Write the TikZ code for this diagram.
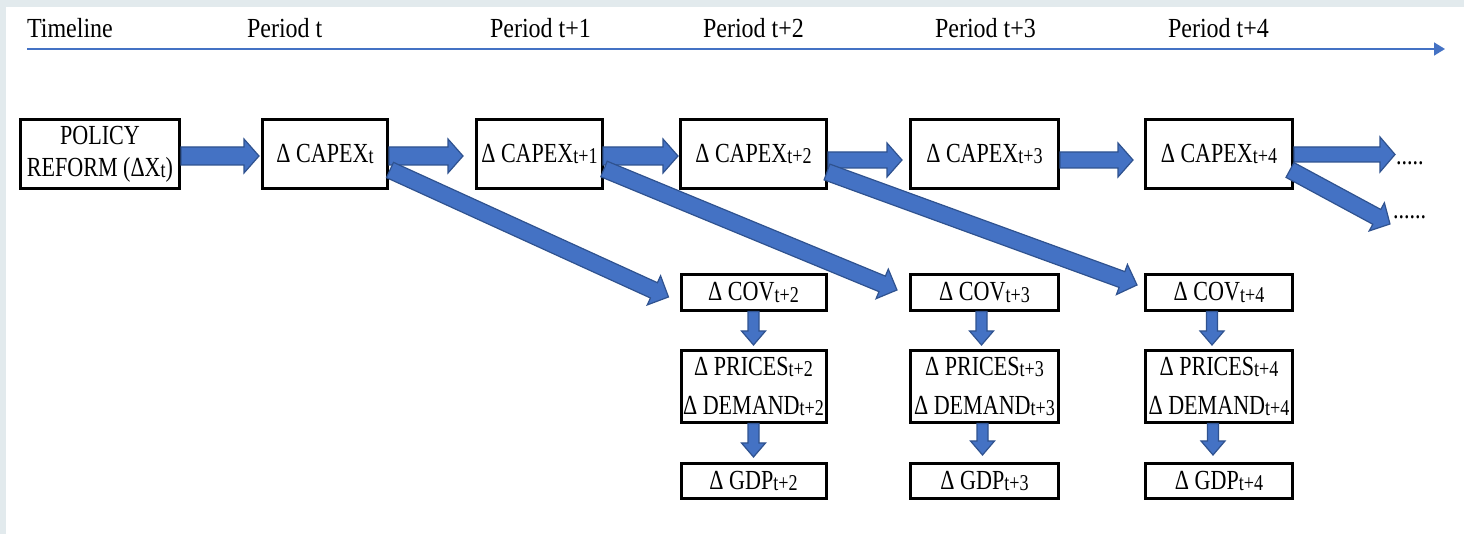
\documentclass[tikz,border=0pt]{standalone}
\usepackage{fontspec}
\setmainfont{Liberation Serif}[FakeStretch=0.8]
\newfontfamily\labfont{Liberation Serif}[FakeStretch=0.87]
\usetikzlibrary{calc,arrows.meta}
\definecolor{abl}{HTML}{4472C4}
\definecolor{abd}{HTML}{2F528F}
\definecolor{stripc}{HTML}{E2EAED}
\newcommand\lsub[1]{{\fontsize{11.3}{12}\selectfont\raisebox{-0.8pt}{#1}}}
\newcommand\blockarrow[5]{%
  \coordinate (bas) at #1;
  \coordinate (bae) at #2;
  \pgfpointdiff{\pgfpointanchor{bas}{center}}{\pgfpointanchor{bae}{center}}%
  \pgfgetlastxy{\mybdx}{\mybdy}%
  \pgfmathsetmacro\mybang{atan2(\mybdy,\mybdx)}%
  \pgfmathsetmacro\myblen{veclen(\mybdx,\mybdy)}%
  \path[barrow, shift={(bas)}, rotate=\mybang]
    (0pt,#3) -- ({\myblen pt-#5},#3) -- ({\myblen pt-#5},#4) -- (\myblen pt,0pt)
    -- ({\myblen pt-#5},-#4) -- ({\myblen pt-#5},-#3) -- (0pt,-#3) -- cycle;
}
\begin{document}
\begin{tikzpicture}[x=0.5pt,y=-0.5pt,
  every node/.style={font=\fontsize{13.8}{16}\selectfont},
  box/.style={draw=black, fill=white, line width=1.5pt, inner sep=0pt, outer sep=0pt, align=center},
  rowtop/.style={box, minimum height=34.5pt},
  rowcov/.style={box, minimum height=18pt},
  rowpd/.style={box, minimum height=36pt, font=\fontsize{13.8}{19.5}\selectfont},
  rowgdp/.style={box, minimum height=17.5pt},
  lab/.style={anchor=base west, inner sep=0pt, outer sep=0pt, font=\labfont\fontsize{13.8}{16}\selectfont},
  dotlab/.style={anchor=base west, inner sep=0pt, outer sep=0pt},
  barrow/.style={fill=abl, draw=abd, line width=0.6pt, line join=miter},
  tline/.style={draw=abl, line width=0.8pt, -{Triangle[length=5.5pt,width=6.5pt]}}
]
\useasboundingbox (0,0) rectangle (1464,534);
\fill[white] (0,0) rectangle (1464,534);
\fill[stripc] (0,0) rectangle (1464,7);
\fill[stripc] (0,0) rectangle (6,534);

% timeline
\coordinate (tls) at (27,49);
\coordinate (tle) at (1445,49);
\draw[tline] (tls) -- (tle);
\node[lab] (lt) at (27,38) {Timeline};
\node[lab] (p0) at (247,38) {Period t};
\node[lab] (p1) at (490,38) {Period t+1};
\node[lab] (p2) at (703,38) {Period t+2};
\node[lab] (p3) at (935,38) {Period t+3};
\node[lab] (p4) at (1168,38) {Period t+4};

% top row
\node[rowtop, minimum width=79.5pt] (policy) at (100,154) {POLICY\\REFORM (ΔX\lsub{t})};
\node[rowtop, minimum width=62.5pt] (capex0) at (325,154) {Δ CAPEX\lsub{t}};
\node[rowtop, minimum width=63pt] (capex1) at (539.5,154) {Δ CAPEX\lsub{t+1}};
\node[rowtop, minimum width=73pt] (capex2) at (753.5,154) {Δ CAPEX\lsub{t+2}};
\node[rowtop, minimum width=74pt] (capex3) at (984.5,154) {Δ CAPEX\lsub{t+3}};
\node[rowtop, minimum width=73.5pt] (capex4) at (1219,154) {Δ CAPEX\lsub{t+4}};

% columns
\node[rowcov, minimum width=72.5pt] (cov2) at (753.5,292.5) {Δ COV\lsub{t+2}};
\node[rowpd, minimum width=72.5pt] (pd2) at (753.5,386.5) {Δ PRICES\lsub{t+2}\\Δ DEMAND\lsub{t+2}};
\node[rowgdp, minimum width=72.5pt] (gdp2) at (753.5,481) {Δ GDP\lsub{t+2}};

\node[rowcov, minimum width=74pt] (cov3) at (984.5,292.5) {Δ COV\lsub{t+3}};
\node[rowpd, minimum width=74pt] (pd3) at (984.5,386.5) {Δ PRICES\lsub{t+3}\\Δ DEMAND\lsub{t+3}};
\node[rowgdp, minimum width=74pt] (gdp3) at (984.5,481) {Δ GDP\lsub{t+3}};

\node[rowcov, minimum width=73.5pt] (cov4) at (1219,292.5) {Δ COV\lsub{t+4}};
\node[rowpd, minimum width=73.5pt] (pd4) at (1219,386.5) {Δ PRICES\lsub{t+4}\\Δ DEMAND\lsub{t+4}};
\node[rowgdp, minimum width=73.5pt] (gdp4) at (1219,481) {Δ GDP\lsub{t+4}};

% dots
\node[dotlab] (dots1) at (1396,165) {.....};
\node[dotlab] (dots2) at (1393,219) {......};

% horizontal block arrows
\blockarrow{($(policy.east)+(1.5,2)$)}{($(capex0.west)+(-3.5,2)$)}{4.5pt}{8.5pt}{7.5pt}
\blockarrow{($(capex0.east)+(1.5,2)$)}{($(capex1.west)+(-13.5,2)$)}{4.5pt}{8.5pt}{7.5pt}
\blockarrow{($(capex1.east)+(0.5,2)$)}{($(capex2.west)+(-2.5,2)$)}{4.5pt}{8.5pt}{7.5pt}
\blockarrow{($(capex2.east)+(1.5,6)$)}{($(capex3.west)+(-8.5,6)$)}{4pt}{8.5pt}{7.5pt}
\blockarrow{($(capex3.east)+(1.5,6)$)}{($(capex4.west)+(-12.5,6)$)}{4pt}{8.5pt}{7.5pt}
\blockarrow{($(capex4.east)+(1.5,0.5)$)}{($(dots1.base west)+(-1,-10.5)$)}{3.75pt}{8.75pt}{7.5pt}

% diagonal block arrows
\blockarrow{($(capex0.east)+(2.5,16)$)}{($(cov2.west)+(-12.5,4.5)$)}{4.2pt}{8pt}{8pt}
\blockarrow{($(capex1.east)+(1.5,15)$)}{($(cov3.west)+(-13.5,-2.5)$)}{4.2pt}{8pt}{8pt}
\blockarrow{($(capex2.east)+(0.5,18)$)}{($(cov4.west)+(-8.5,-7.5)$)}{4.2pt}{8pt}{8pt}
\blockarrow{($(capex4.east)+(-2.5,16)$)}{($(dots2.base west)+(-3,5)$)}{4.2pt}{8pt}{7.5pt}

% vertical block arrows
\blockarrow{($(cov2.south)+(0,1)$)}{($(pd2.north)+(0,-5.5)$)}{2.75pt}{6pt}{7pt}
\blockarrow{($(pd2.south)+(0,1)$)}{($(gdp2.north)+(0,-6.5)$)}{2.75pt}{6pt}{7pt}
\blockarrow{($(cov3.south)+(-3,1)$)}{($(pd3.north)+(-3,-5.5)$)}{2.75pt}{6pt}{7pt}
\blockarrow{($(pd3.south)+(-2,1)$)}{($(gdp3.north)+(-2,-8.5)$)}{2.75pt}{6pt}{7pt}
\blockarrow{($(cov4.south)+(-7,1)$)}{($(pd4.north)+(-7,-5.5)$)}{2.75pt}{6pt}{7pt}
\blockarrow{($(pd4.south)+(-6,1)$)}{($(gdp4.north)+(-6,-8.5)$)}{2.75pt}{6pt}{7pt}
\end{tikzpicture}
\end{document}
